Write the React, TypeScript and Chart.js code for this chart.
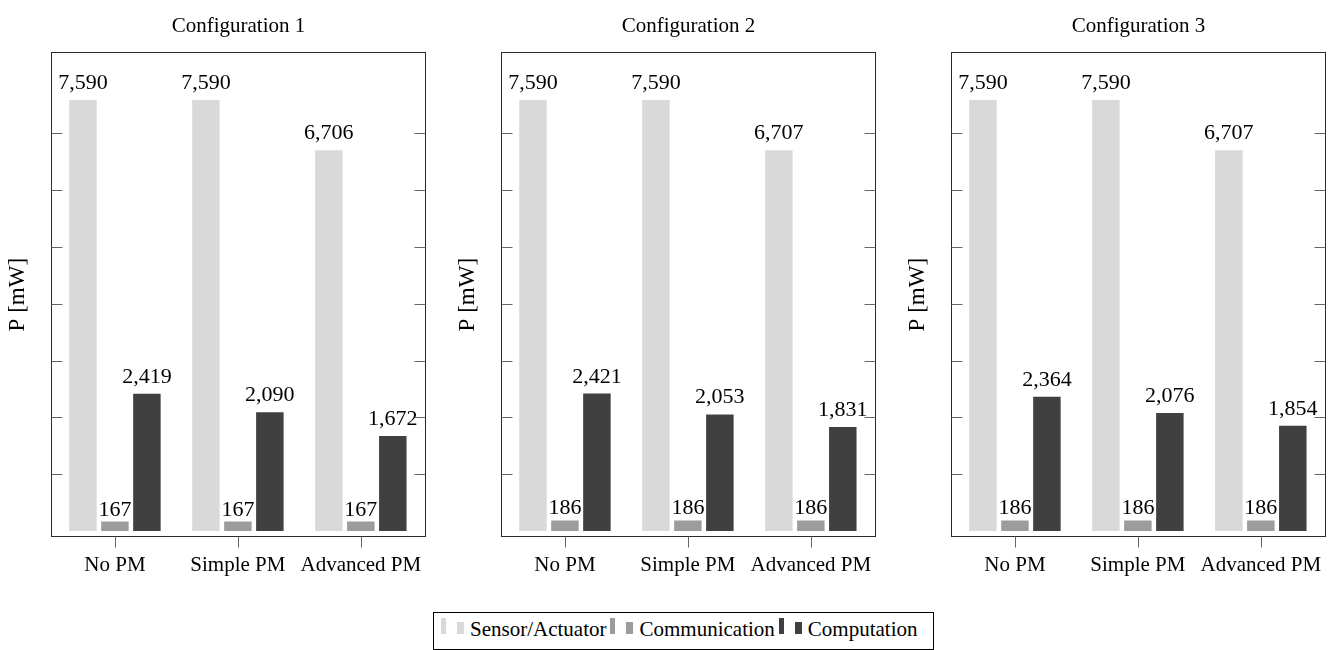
import React, { useEffect, useRef } from 'react';
import { Chart, registerables } from 'chart.js';

Chart.register(...registerables);

const categories = ['No PM', 'Simple PM', 'Advanced PM'];
const panelTitles = ['Configuration 1', 'Configuration 2', 'Configuration 3'];
const seriesNames = ['Sensor/Actuator', 'Communication', 'Computation'];
const seriesColors = ['#d9d9d9', '#9c9c9c', '#404040'];
const yTickValues = [1000, 2000, 3000, 4000, 5000, 6000, 7000];

const sensorConfig1 = [7590, 7590, 6706];
const commConfig1 = [167, 167, 167];
const compConfig1 = [2419, 2090, 1672];

const sensorConfig2 = [7590, 7590, 6707];
const commConfig2 = [186, 186, 186];
const compConfig2 = [2421, 2053, 1831];

const sensorConfig3 = [7590, 7590, 6707];
const commConfig3 = [186, 186, 186];
const compConfig3 = [2364, 2076, 1854];

const panels = [
  { title: panelTitles[0], series: [sensorConfig1, commConfig1, compConfig1] },
  { title: panelTitles[1], series: [sensorConfig2, commConfig2, compConfig2] },
  { title: panelTitles[2], series: [sensorConfig3, commConfig3, compConfig3] },
];

const SERIF = '"Liberation Serif", "Times New Roman", serif';
const CANVAS_W = 450;
const CANVAS_H = 600;

const decorPlugin = {
  id: 'decor',
  afterDatasetsDraw(chart: any) {
    const { ctx, chartArea: a, scales } = chart;
    ctx.save();
    // value labels
    ctx.font = `22px ${SERIF}`;
    ctx.fillStyle = '#000';
    ctx.textAlign = 'center';
    ctx.textBaseline = 'alphabetic';
    chart.data.datasets.forEach((ds: any, di: number) => {
      const meta = chart.getDatasetMeta(di);
      meta.data.forEach((bar: any, i: number) => {
        const v = ds.data[i].y as number;
        const s = v.toLocaleString('en-US');
        const off = s.includes(',') ? 11 : 6;
        ctx.fillText(s, bar.x, bar.y - off);
      });
    });
    // frame
    ctx.strokeStyle = '#2a2a2a';
    ctx.lineWidth = 1;
    const l = Math.round(a.left) + 0.5;
    const r = Math.round(a.right) - 0.5;
    const t = Math.round(a.top) + 0.5;
    const b = Math.round(a.bottom) - 0.5;
    ctx.strokeRect(l, t, r - l, b - t);
    // ticks
    ctx.strokeStyle = '#666';
    ctx.beginPath();
    scales.y.ticks.forEach((tk: any) => {
      const py = Math.round(scales.y.getPixelForValue(tk.value)) + 0.5;
      ctx.moveTo(l, py);
      ctx.lineTo(l + 11, py);
      ctx.moveTo(r - 11, py);
      ctx.lineTo(r, py);
    });
    scales.x.ticks.forEach((tk: any) => {
      const px = Math.round(scales.x.getPixelForValue(tk.value)) + 0.5;
      ctx.moveTo(px, b);
      ctx.lineTo(px, b + 11);
    });
    ctx.stroke();
    ctx.restore();
  },
};

function Panel({ title, series, left }: { title: string; series: number[][]; left: number }) {
  const ref = useRef<HTMLCanvasElement | null>(null);
  useEffect(() => {
    if (!ref.current) return;
    const chart = new Chart(ref.current, {
      type: 'bar',
      data: {
        datasets: series.map((vals, si) => ({
          label: seriesNames[si],
          data: vals.map((v, i) => ({ x: i, y: v })),
          backgroundColor: seriesColors[si],
          borderWidth: 0,
          categoryPercentage: 0.78,
          barPercentage: 0.86,
        })),
      },
      options: {
        animation: false,
        responsive: false,
        devicePixelRatio: 1,
        layout: { padding: { left: 0, right: 24, top: 0, bottom: 0 } },
        plugins: {
          legend: { display: false },
          tooltip: { enabled: false },
          title: {
            display: true,
            text: title,
            fullSize: false,
            color: '#000',
            font: { family: SERIF, size: 21, weight: 'normal' },
            padding: { top: 13.4, bottom: 13.4 },
          },
        },
        scales: {
          x: {
            type: 'linear',
            offset: false,
            min: -0.52,
            max: 2.53,
            grid: { display: false, drawTicks: false },
            border: { display: false },
            afterBuildTicks: (scale: any) => {
              scale.ticks = categories.map((_, i) => ({ value: i }));
            },
            afterFit: (scale: any) => {
              scale.height = CANVAS_H - 537.3;
            },
            ticks: {
              color: '#000',
              font: { family: SERIF, size: 21 },
              padding: 16,
              maxRotation: 0,
              autoSkip: false,
              callback: (v: any) => categories[v as number] ?? '',
            },
          },
          y: {
            type: 'linear',
            min: -111,
            max: 8435,
            grid: { display: false, drawTicks: false },
            border: { display: false },
            afterBuildTicks: (scale: any) => {
              scale.ticks = yTickValues.map((v) => ({ value: v }));
            },
            afterFit: (scale: any) => {
              scale.width = 51;
            },
            ticks: { display: false },
            title: {
              display: true,
              text: 'P [mW]',
              color: '#000',
              font: { family: SERIF, size: 23 },
              padding: { top: 4.2, bottom: 0 },
            },
          },
        },
      },
      plugins: [decorPlugin],
    } as any);
    return () => chart.destroy();
  }, [title, series]);
  return (
    <canvas
      ref={ref}
      width={CANVAS_W}
      height={CANVAS_H}
      style={{ position: 'absolute', left, top: 0, width: CANVAS_W, height: CANVAS_H, display: 'block' }}
    />
  );
}

function LegendMarker({ color }: { color: string }) {
  return (
    <span style={{ display: 'inline-block', marginRight: 6 }}>
      <span style={{ display: 'inline-block', width: 5, height: 16, background: color, marginBottom: 2, verticalAlign: 'baseline' }} />
      <span style={{ display: 'inline-block', width: 7, height: 12, background: color, marginLeft: 11, marginBottom: 2, verticalAlign: 'baseline' }} />
    </span>
  );
}

export default function App() {
  return (
    <div style={{ position: 'absolute', left: 0, top: 0, width: 1336, height: 650, background: '#fff', overflow: 'hidden' }}>
      {panels.map((p, i) => (
        <Panel key={i} title={p.title} series={p.series} left={i * 450} />
      ))}
      <div
        style={{
          position: 'absolute',
          left: 433,
          top: 612,
          width: 501,
          height: 38,
          boxSizing: 'border-box',
          border: '1px solid #000',
          fontFamily: SERIF,
          fontSize: 21,
          lineHeight: '32px',
          paddingLeft: 7,
          whiteSpace: 'nowrap',
          color: '#000',
        }}
      >
        {seriesNames.map((name, i) => (
          <span key={i} style={{ marginRight: 4 }}>
            <LegendMarker color={seriesColors[i]} />
            {name}
          </span>
        ))}
      </div>
    </div>
  );
}
